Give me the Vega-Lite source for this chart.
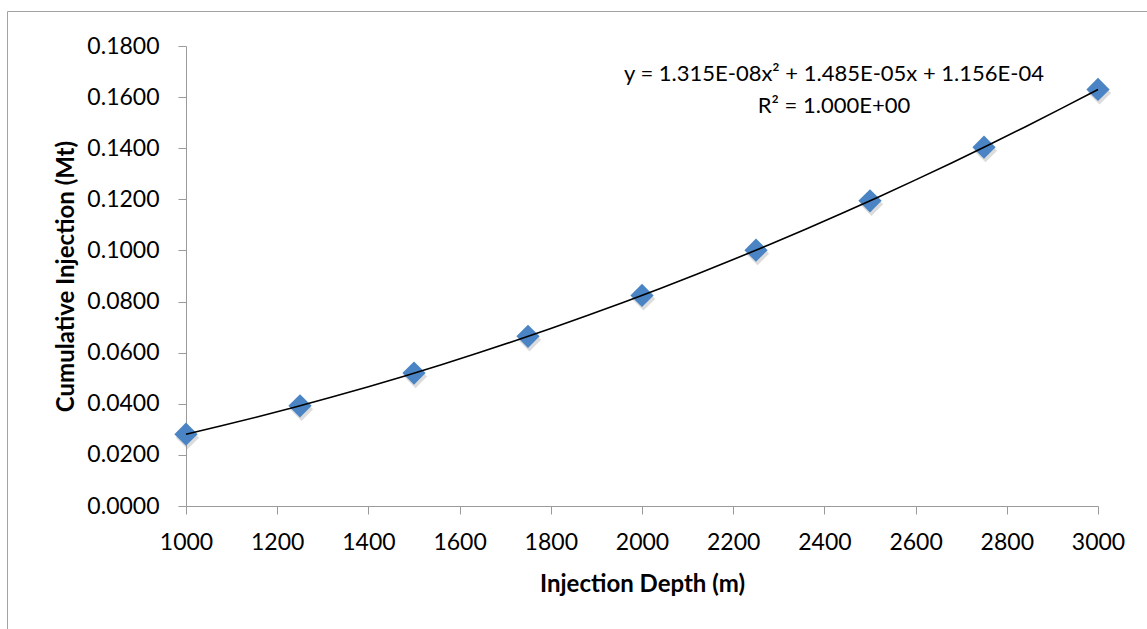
{
  "$schema": "https://vega.github.io/schema/vega-lite/v6.json",
  "width": 1140,
  "height": 618,
  "autosize": {"type": "none"},
  "padding": {"left": 7, "top": 11, "right": 0, "bottom": 0},
  "background": "white",
  "config": {
    "view": {"stroke": "#a3a3a3", "strokeWidth": 1},
    "font": "Lato",
    "axis": {
      "domainColor": "#9a9a9a",
      "tickColor": "#9a9a9a",
      "grid": false,
      "labelFont": "Lato",
      "labelFontSize": 23,
      "labelColor": "#000000",
      "labelFlush": false,
      "labelOverlap": false,
      "titleFont": "Lato",
      "titleFontSize": 24,
      "titleFontWeight": "bold",
      "titleColor": "#000000",
      "tickSize": 8
    }
  },
  "datasets": {
    "injection": [
      {"depth": 1000, "cumulative": 0.0281},
      {"depth": 1250, "cumulative": 0.0392},
      {"depth": 1500, "cumulative": 0.0520},
      {"depth": 1750, "cumulative": 0.0664},
      {"depth": 2000, "cumulative": 0.0824},
      {"depth": 2250, "cumulative": 0.1001},
      {"depth": 2500, "cumulative": 0.1194},
      {"depth": 2750, "cumulative": 0.1404},
      {"depth": 3000, "cumulative": 0.1630}
    ],
    "trendLabel": [
      {"depth": 2421, "cumulative": 0.1690, "label": "y = 1.315E-08x² + 1.485E-05x + 1.156E-04"},
      {"depth": 2421, "cumulative": 0.1565, "label": "R² = 1.000E+00"}
    ]
  },
  "encoding": {
    "x": {
      "field": "depth",
      "type": "quantitative",
      "scale": {"domain": [1000, 3000], "range": [179, 1091], "nice": false, "zero": false},
      "axis": {
        "title": "Injection Depth (m)",
        "offset": -123,
        "values": [1000, 1200, 1400, 1600, 1800, 2000, 2200, 2400, 2600, 2800, 3000],
        "format": "d",
        "labelPadding": 17,
        "titlePadding": 18
      }
    },
    "y": {
      "field": "cumulative",
      "type": "quantitative",
      "scale": {"domain": [0, 0.18], "range": [495, 35], "nice": false, "zero": true},
      "axis": {
        "title": "Cumulative Injection (Mt)",
        "offset": -179,
        "values": [0, 0.02, 0.04, 0.06, 0.08, 0.1, 0.12, 0.14, 0.16, 0.18],
        "format": ".4f",
        "labelPadding": 19,
        "titlePadding": 8
      }
    }
  },
  "layer": [
    {
      "data": {"name": "injection"},
      "mark": {"type": "point", "shape": "diamond", "filled": true, "size": 540, "color": "#8a8a8a", "opacity": 0.3, "xOffset": 1.5, "yOffset": 3.5}
    },
    {
      "data": {"name": "injection"},
      "mark": {"type": "point", "shape": "diamond", "filled": true, "size": 540, "color": "#4a84c4", "opacity": 1}
    },
    {
      "data": {"name": "injection"},
      "transform": [
        {"regression": "cumulative", "on": "depth", "method": "poly", "order": 2, "extent": [1000, 3000]}
      ],
      "mark": {"type": "line", "color": "#000000", "strokeWidth": 1.6}
    },
    {
      "data": {"name": "trendLabel"},
      "mark": {"type": "text", "align": "center", "baseline": "middle", "fontSize": 22, "font": "Lato", "color": "#000000"},
      "encoding": {"text": {"field": "label", "type": "nominal"}}
    }
  ]
}
